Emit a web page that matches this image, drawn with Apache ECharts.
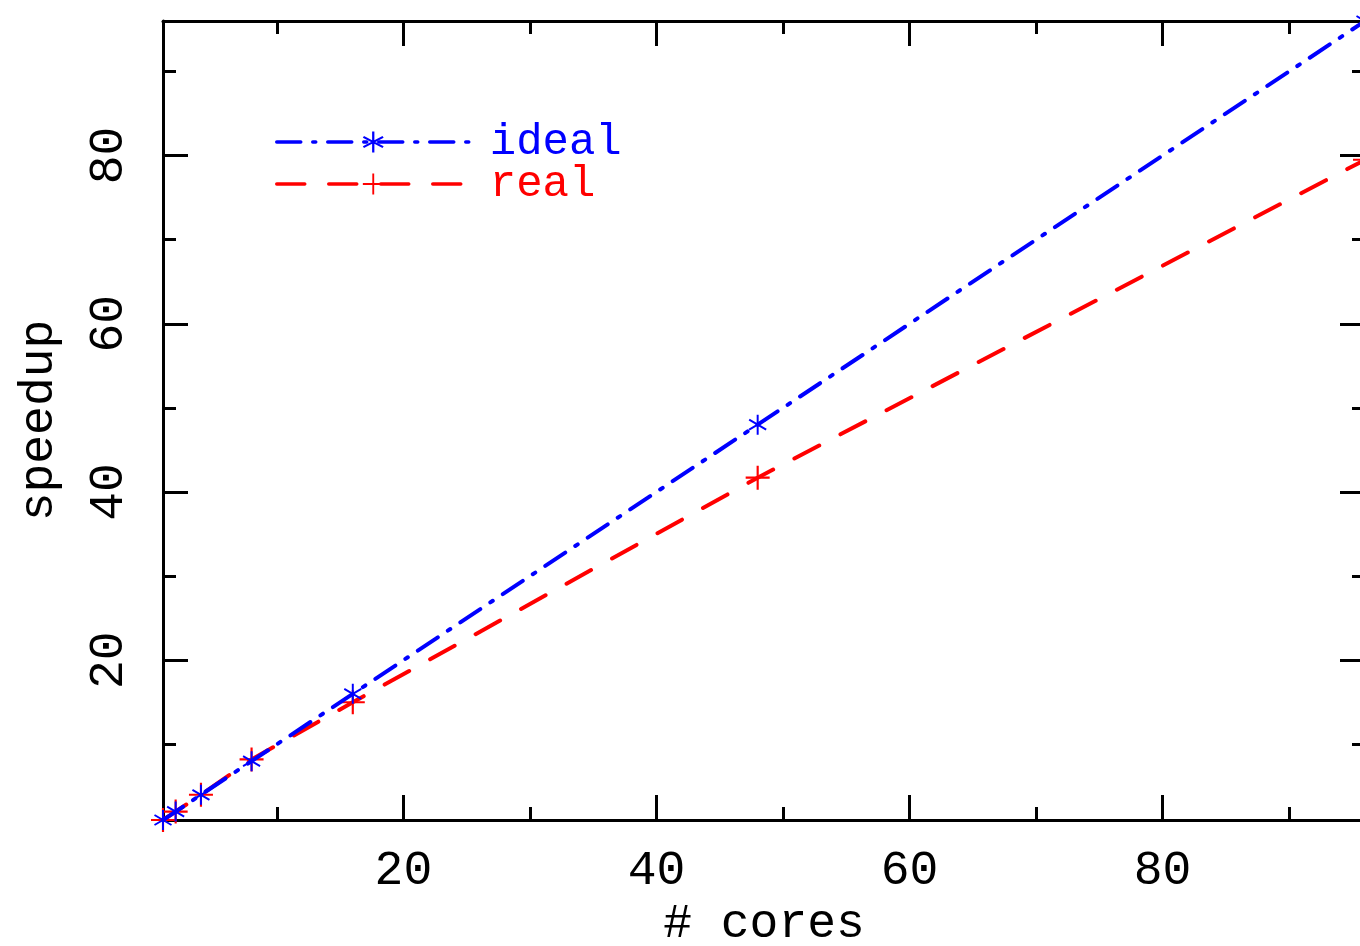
<!DOCTYPE html>
<html>
<head>
<meta charset="utf-8">
<script src="https://cdn.jsdelivr.net/npm/echarts@6/dist/echarts.min.js"></script>
<style>
  html, body { margin: 0; padding: 0; background: #fff; overflow: hidden; }
  #chart { width: 1360px; height: 946px; }
</style>
</head>
<body>
<div id="chart"></div>
<script>
// data
const cores = [1, 2, 4, 8, 16, 48, 96];
const idealSpeedup = [1, 2, 4, 8, 16, 48, 96];
const realSpeedup = [1, 2, 4, 8.2, 15, 41.7, 79.5];

const majorTicks = [20, 40, 60, 80];
const minorTicks = [10, 30, 50, 70, 90];

const FONT = 'Liberation Mono';

// symbols: asterisk and plus, built from thin filled bars
const starPath = 'path://M45,0 L55,0 L55,100 L45,100 Z ' +
  'M9.2,20.67 L95.8,70.67 L90.8,79.33 L4.2,29.33 Z ' +
  'M4.2,70.67 L90.8,20.67 L95.8,29.33 L9.2,79.33 Z';
const plusPath = 'path://M0,45.5 L100,45.5 L100,54.5 L0,54.5 Z M45.5,0 L54.5,0 L54.5,100 L45.5,100 Z';

const chart = echarts.init(document.getElementById('chart'));

const axisBase = { type: 'value', min: 1, max: 96, splitLine: { show: false } };
const lineStyle = { color: '#000', width: 3 };

function xAx(pos, ticks, len, main) {
  return Object.assign({}, axisBase, {
    position: pos,
    axisLine: { show: main, onZero: false, lineStyle: lineStyle },
    axisTick: { show: true, inside: true, length: len, customValues: ticks, lineStyle: lineStyle },
    axisLabel: (main && pos === 'bottom') ? {
      show: true, customValues: majorTicks, margin: 27,
      fontFamily: FONT, fontSize: 48, color: '#000'
    } : { show: false },
    name: (main && pos === 'bottom') ? '# cores' : '',
    nameLocation: 'middle', nameGap: 71,
    nameTextStyle: { fontFamily: FONT, fontSize: 48, color: '#000' }
  });
}
function yAx(pos, ticks, len, main) {
  return Object.assign({}, axisBase, {
    position: pos,
    axisLine: { show: main, onZero: false, lineStyle: lineStyle },
    axisTick: { show: true, inside: true, length: len, customValues: ticks, lineStyle: lineStyle },
    axisLabel: (main && pos === 'left') ? {
      show: true, customValues: majorTicks, margin: 30, rotate: 90,
      fontFamily: FONT, fontSize: 48, color: '#000'
    } : { show: false },
    name: (main && pos === 'left') ? 'speedup' : '',
    nameLocation: 'middle', nameGap: 100, nameRotate: 90,
    nameTextStyle: { fontFamily: FONT, fontSize: 48, color: '#000' }
  });
}

const option = {
  backgroundColor: '#fff',
  animation: false,
  grid: { left: 163, width: 1202, top: 21, bottom: 126, containLabel: false, outerBoundsMode: 'none' },
  legend: {
    left: 270, top: 115, orient: 'vertical',
    itemWidth: 193, itemHeight: 26, itemGap: -2,
    lineStyle: { width: 3.5 },
    textStyle: { fontFamily: FONT, fontSize: 44, padding: [0, 0, 0, 15] },
    data: [
      { name: 'ideal', textStyle: { color: '#0000ff' } },
      { name: 'real', textStyle: { color: '#ff0000' } }
    ]
  },
  xAxis: [
    xAx('bottom', majorTicks, 25, true),
    xAx('bottom', minorTicks, 13, false),
    xAx('top', majorTicks, 25, true),
    xAx('top', minorTicks, 13, false)
  ],
  yAxis: [
    yAx('left', majorTicks, 25, true),
    yAx('left', minorTicks, 13, false),
    yAx('right', majorTicks, 25, true),
    yAx('right', minorTicks, 13, false)
  ],
  series: [
    {
      name: 'ideal', type: 'line', z: 3,
      data: cores.map((c, i) => [c, idealSpeedup[i]]),
      symbol: starPath, symbolSize: [18, 20], showAllSymbol: true,
      itemStyle: { color: '#0000ff', borderWidth: 0 },
      lineStyle: { color: '#0000ff', width: 4, type: [24, 12, 3, 12], cap: 'round' }
    },
    {
      name: 'real', type: 'line', z: 2,
      data: cores.map((c, i) => [c, realSpeedup[i]]),
      symbol: plusPath, symbolSize: 24, showAllSymbol: true,
      itemStyle: { color: '#ff0000', borderWidth: 0 },
      lineStyle: { color: '#ff0000', width: 4, type: [28, 24], cap: 'round' }
    }
  ]
};

chart.setOption(option);
</script>
</body>
</html>
